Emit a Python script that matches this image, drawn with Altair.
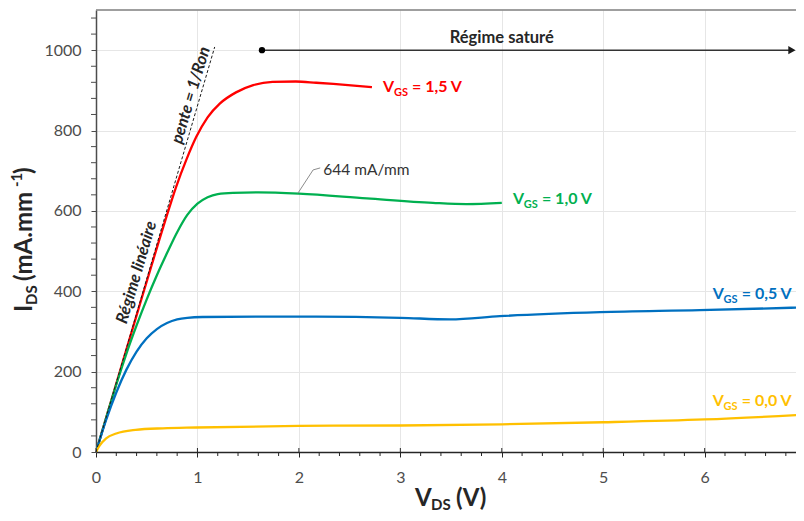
import altair as alt
import pandas as pd

# ---------------- data ----------------
series_names = ["VGS = 1,5 V", "VGS = 1,0 V", "VGS = 0,5 V", "VGS = 0,0 V"]
series_values = ["1,5", "1,0", "0,5", "0,0"]
series_colors = ["#FF0000", "#00B050", "#0070C0", "#FFC000"]

vds_15 = [0, 0.2, 0.4, 0.62, 0.7, 0.79, 0.89, 0.99, 1.1, 1.22, 1.38, 1.55, 1.74, 1.97, 2.17, 2.34, 2.72]
ids_15 = [0, 170, 340, 525, 590, 660, 727, 785, 833, 867, 895, 913, 921, 922, 919, 916, 908]

vds_10 = [0, 0.1, 0.2, 0.3, 0.4, 0.5, 0.6, 0.7, 0.8, 0.9, 1.0, 1.1, 1.2, 1.35, 1.6, 2.0, 2.67, 3.32, 3.65, 4.0]
ids_10 = [0, 85, 168, 245, 315, 380, 440, 495, 547, 590, 618, 634, 642, 645, 646, 643, 631, 620, 617, 620]

vds_05 = [0, 0.1, 0.2, 0.3, 0.4, 0.5, 0.6, 0.7, 0.8, 0.9, 1.05, 1.6, 2.17, 3.0, 3.49, 3.98, 4.97, 5.95, 7.0]
ids_05 = [0, 80, 148, 205, 250, 283, 306, 321, 330, 334, 336, 337, 337, 334, 330, 338, 348, 353, 360]

vds_00 = [0, 0.03, 0.1, 0.2, 0.39, 0.66, 0.99, 2.0, 3.0, 4.0, 5.0, 6.0, 7.0]
ids_00 = [0, 14, 34, 46, 55, 59, 61, 65, 66, 69, 74, 81, 93]

slope_vds = [0, 1.17]          # pente = 1/Ron
slope_ids = [0, 1008]

peak_vds = [1.99, 2.14, 2.21]  # leader for 644 mA/mm
peak_ids = [644, 702, 707]

sat_vds = [1.636, 6.86]        # Régime saturé arrow
sat_ids = [1000, 1000]

x_ticks = [0, 1, 2, 3, 4, 5, 6]
y_ticks = [0, 200, 400, 600, 800, 1000]
x_minor = [round(i * 0.2, 1) for i in range(35) if i % 5 != 0]
y_minor = [v for v in range(0, 1100, 40) if v % 200 != 0]

# ---------------- tables ----------------
rows = []
for name, xs_, ys_ in zip(series_names, [vds_15, vds_10, vds_05, vds_00], [ids_15, ids_10, ids_05, ids_00]):
    for a, b in zip(xs_, ys_):
        rows.append({"vds": a, "ids": b, "vgs": name})
curves_df = pd.DataFrame(rows)
slope_df = pd.DataFrame({"vds": slope_vds, "ids": slope_ids})
peak_df = pd.DataFrame({"vds": peak_vds, "ids": peak_ids})
sat_df = pd.DataFrame({"vds": sat_vds, "ids": sat_ids})
xmin_df = pd.DataFrame({"vds": x_minor})
xmaj_df = pd.DataFrame({"vds": x_ticks})
ymin_df = pd.DataFrame({"ids": y_minor})
dummy = pd.DataFrame({"k": [0]})

# ---------------- styling ----------------
FONT = "Lato"
AX = "#4d4d4d"
DARK = "#262626"
W, H = 700, 442

x_scale = alt.Scale(domain=[0, 6.9], nice=False, zero=False)
y_scale = alt.Scale(domain=[0, 1100], nice=False, zero=False)
x_axis = alt.Axis(values=x_ticks, format="d", title=None, grid=True, gridColor="#E6E6E6",
                  tickSize=5, tickColor="#262626", domainColor="#262626", domainWidth=1.5,
                  labelFont=FONT, labelFontSize=16, labelColor=AX, labelPadding=12,
                  labelFlush=False)
y_axis = alt.Axis(values=y_ticks, format="d", title=None, grid=True, gridColor="#E6E6E6",
                  tickSize=5, tickColor=AX, domainColor=AX, domainWidth=1.5,
                  labelFont=FONT, labelFontSize=16, labelColor=AX, labelPadding=10)


def XF(f):
    return alt.X(f, type="quantitative", scale=x_scale, axis=x_axis)


def YF(f):
    return alt.Y(f, type="quantitative", scale=y_scale, axis=y_axis)


def XD(v):
    return alt.XDatum(v, type="quantitative", scale=x_scale, axis=x_axis)


def YD(v):
    return alt.YDatum(v, type="quantitative", scale=y_scale, axis=y_axis)


def txt(text, x, y, **kw):
    return alt.Chart(dummy).mark_text(text=text, font=FONT, **kw).encode(x=XD(x), y=YD(y))


def ptxt(text, x, y, **kw):
    return alt.Chart(dummy).mark_text(text=text, font=FONT, **kw).encode(x=alt.value(x), y=alt.value(y))


layers = []

# top frame line
layers.append(alt.Chart(dummy).mark_rule(color="#7f7f7f", strokeWidth=1.5).encode(
    x=alt.value(0), x2=alt.value(W), y=alt.value(0)))

# curves
layers.append(alt.Chart(curves_df).mark_line(interpolate="monotone", strokeWidth=2.3, clip=True).encode(
    x=XF("vds"), y=YF("ids"),
    color=alt.Color("vgs:N", scale=alt.Scale(domain=series_names, range=series_colors), legend=None)))

# minor / crossing ticks
layers.append(alt.Chart(xmin_df).mark_rule(color="#262626", strokeWidth=1).encode(
    x=XF("vds"), y=alt.value(H), y2=alt.value(H + 4)))
layers.append(alt.Chart(xmaj_df).mark_rule(color="#262626", strokeWidth=1).encode(
    x=XF("vds"), y=alt.value(H - 4), y2=alt.value(H)))
layers.append(alt.Chart(ymin_df).mark_rule(color=AX, strokeWidth=1).encode(
    y=YF("ids"), x=alt.value(-5), x2=alt.value(0)))

# slope line
layers.append(alt.Chart(slope_df).mark_line(color="#1a1a1a", strokeWidth=1, strokeDash=[3, 2]).encode(
    x=XF("vds"), y=YF("ids")))
# leader line for 644 mA/mm
layers.append(alt.Chart(peak_df).mark_line(color="#8c8c8c", strokeWidth=1).encode(
    x=XF("vds"), y=YF("ids"), order=alt.Order("vds:Q")))
# saturation arrow
layers.append(alt.Chart(sat_df).mark_line(color="#333333", strokeWidth=1.5).encode(
    x=XF("vds"), y=YF("ids")))
layers.append(alt.Chart(dummy).mark_point(shape="circle", filled=True, size=40, color="#000000", opacity=1).encode(
    x=XD(sat_vds[0]), y=YD(sat_ids[0])))
layers.append(alt.Chart(dummy).mark_point(shape="triangle-right", filled=True, size=70, color="#1a1a1a", opacity=1).encode(
    x=XD(sat_vds[1]), y=YD(sat_ids[1])))

# curve labels  V_GS = x V
lab_x = [2.83, 4.11, 6.08, 6.08]
lab_y = [896, 617, 382, 114.5]
for v, c, lx, ly in zip(series_values, series_colors, lab_x, lab_y):
    layers.append(txt("V", lx, ly, color=c, fontSize=16, fontWeight="bold", align="left", baseline="alphabetic"))
    layers.append(txt("GS", lx, ly, color=c, fontSize=11, fontWeight="bold", align="left", baseline="alphabetic", dx=10.8, dy=4))
    layers.append(txt("= " + v + " V", lx, ly, color=c, fontSize=16, fontWeight="bold", align="left", baseline="alphabetic", dx=29))

# other annotations
layers.append(txt("644 mA/mm", 2.24, 689, color="#333333", fontSize=15.5, align="left", baseline="alphabetic"))
layers.append(txt("Régime saturé", 4.0, 1018, color=DARK, fontSize=16.5, fontWeight="bold", align="center", baseline="alphabetic"))
layers.append(txt("pente = 1/Ron", 0.936, 888, color=DARK, fontSize=16.5, fontWeight="bold", fontStyle="italic",
                  align="center", baseline="middle", angle=286.5))
layers.append(txt("Régime linéaire", 0.401, 447, color=DARK, fontSize=16.5, fontWeight="bold", fontStyle="italic",
                  align="center", baseline="middle", angle=286.5))

# y axis title  I_DS (mA.mm^-1)
yt_x, yt_y = -64, 302
layers.append(ptxt("I", yt_x, yt_y, color=DARK, fontSize=24, fontWeight="bold", angle=270, align="left", baseline="alphabetic"))
layers.append(ptxt("DS", yt_x, yt_y, color=DARK, fontSize=15, fontWeight="bold", angle=270, align="left", baseline="alphabetic", dx=7, dy=5))
layers.append(ptxt("(mA.mm", yt_x, yt_y, color=DARK, fontSize=24, fontWeight="bold", angle=270, align="left", baseline="alphabetic", dx=31))
layers.append(ptxt("-1", yt_x, yt_y, color=DARK, fontSize=15, fontWeight="bold", angle=270, align="left", baseline="alphabetic", dx=125, dy=-10))
layers.append(ptxt(")", yt_x, yt_y, color=DARK, fontSize=24, fontWeight="bold", angle=270, align="left", baseline="alphabetic", dx=138))

# x axis title  V_DS (V)
xt_x, xt_y = 319, 496
layers.append(ptxt("V", xt_x, xt_y, color=DARK, fontSize=24, fontWeight="bold", align="left", baseline="alphabetic"))
layers.append(ptxt("DS", xt_x, xt_y, color=DARK, fontSize=15, fontWeight="bold", align="left", baseline="alphabetic", dx=16, dy=4))
layers.append(ptxt("(V)", xt_x, xt_y, color=DARK, fontSize=24, fontWeight="bold", align="left", baseline="alphabetic", dx=41))

chart = alt.layer(*layers).properties(
    width=W, height=H,
    autosize=alt.AutoSizeParams(type="none"),
    padding={"left": 88, "top": 2, "right": 0, "bottom": 61},
    background="white",
).configure_view(stroke=None)

chart.save("out.html", embed_options={"renderer": "svg", "actions": False})
